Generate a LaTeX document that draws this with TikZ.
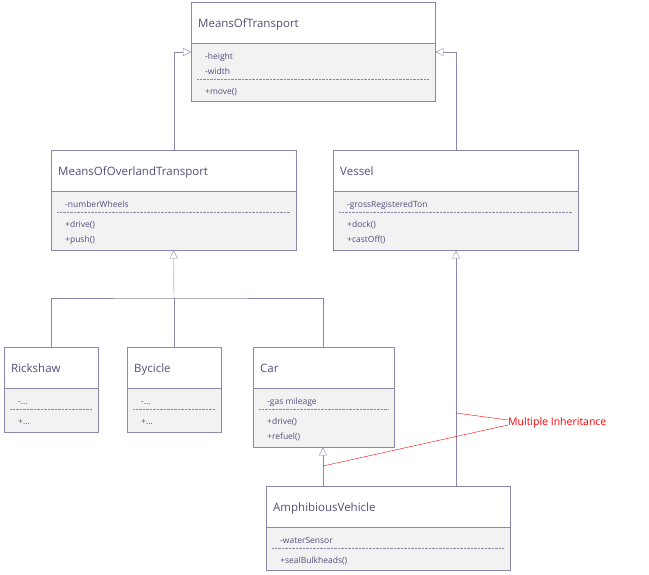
\documentclass[tikz,border=0pt]{standalone}
\usepackage{fontspec}
\setmainfont{Open Sans}
\usetikzlibrary{arrows.meta}
\definecolor{umlline}{HTML}{8C87A8}
\definecolor{umltext}{HTML}{505078}
\definecolor{umlfill}{HTML}{F2F2F3}
\tikzset{
	umlbox/.style={draw=umlline, fill=white, inner sep=0pt},
	umltitle/.style={anchor=base west, inner sep=0pt, text=umltext, font=\fontsize{11.5}{12}\selectfont},
	umlitem/.style={anchor=base west, inner sep=0pt, text=umltext, font=\fontsize{8.5}{9}\selectfont},
	inherit/.style={draw=umlline, -{Triangle[open,length=8pt,width=8pt]}},
	note/.style={draw=red}
}
\newcommand{\etcdots}{...}
% name, x, y, w, h, title, number of attributes, attributes, operations
\newcommand{\umlclass}[9]{
	\node[umlbox, minimum width=#4pt, minimum height=#5pt, anchor=north west] (#1) at (#2,#3) {};
	\fill[umlfill] ([yshift=-41pt]#1.north west) rectangle (#1.south east);
	\draw[umlline] (#1.north west) rectangle (#1.south east);
	\draw[umlline] ([yshift=-41pt]#1.north west) -- ([yshift=-41pt]#1.north east);
	\node[umltitle] (#1-title) at (#2+7,#3+25) {#6};
	\foreach \t [count=\i] in {#8}
		\node[umlitem] at (#2+14,#3+57+15*\i-15) {\t};
	\pgfmathsetmacro{\dy}{#3+57+15*#7-15+5}
	\draw[umlline, densely dotted] (#2+6,\dy) -- (#2+#4-6,\dy);
	\foreach \t [count=\i] in {#9}
		\node[umlitem] at (#2+14,\dy+15*\i) {\t};
}
\begin{document}
\begin{tikzpicture}[x=1pt, y=-1pt]
	\useasboundingbox (0,0) rectangle (649,574);
	
	\umlclass{transport}{191}{2}{244}{99}{MeansOfTransport}{2}{-height,-width}{+move()}
	\umlclass{overland}{51}{150}{245}{100}{MeansOfOverlandTransport}{1}{-numberWheels}{+drive(),+push()}
	\umlclass{vessel}{333}{150}{245}{100}{Vessel}{1}{-grossRegisteredTon}{+dock(),+castOff()}
	\umlclass{rickshaw}{4}{347}{94}{85}{Rickshaw}{1}{-\etcdots}{+\etcdots}
	\umlclass{bycicle}{127}{347}{94}{85}{Bycicle}{1}{-\etcdots}{+\etcdots}
	\umlclass{car}{253}{347}{141}{100}{Car}{1}{-gas mileage}{+drive(),+refuel()}
	\umlclass{amphibious}{266}{486}{244}{84}{AmphibiousVehicle}{1}{-waterSensor}{+sealBulkheads()}
	
	\coordinate (join) at (174,298);
	\draw[inherit] (overland.north) |- ([yshift=-50pt]transport.north west);
	\draw[inherit] (vessel.north -| 456,0) |- ([yshift=-50pt]transport.north east);
	\draw[umlline] (rickshaw.north -| 51,0) |- (join) -| (car.north -| 323,0);
	\draw[umlline] (bycicle.north -| join) -- (join);
	\draw[inherit] (join) -- (overland.south);
	\draw[inherit] (amphibious.north -| 323,0) -- (car.south -| 323,0);
	\draw[inherit] (amphibious.north -| 456,0) -- (vessel.south -| 456,0);
	
	\node[anchor=west, inner sep=0pt, text=red, font=\fontsize{10.5}{11}\selectfont] (multi) at (508,423) {Multiple Inheritance};
	\draw[note] (456,413) -- ([yshift=3pt]multi.west);
	\draw[note] (323,466) -- ([yshift=-2pt]multi.west);
\end{tikzpicture}
\end{document}
